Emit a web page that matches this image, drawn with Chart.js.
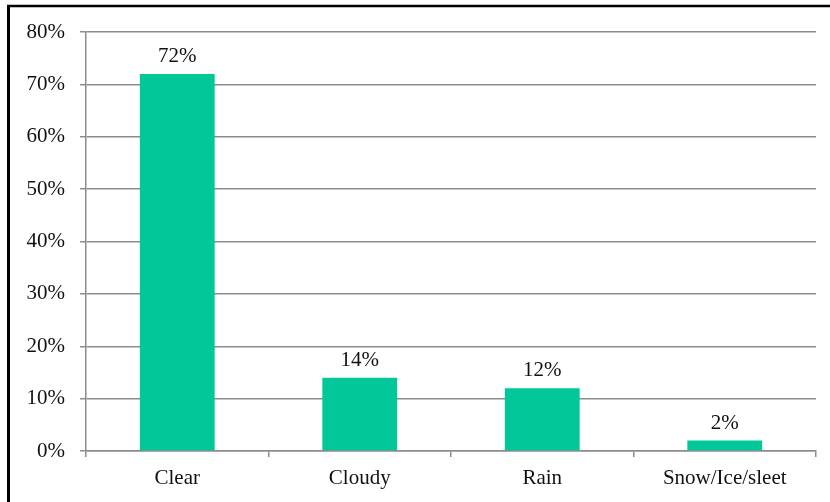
<!DOCTYPE html>
<html>
<head>
<meta charset="utf-8">
<script src="https://cdn.jsdelivr.net/npm/chart.js@4.4.1/dist/chart.umd.min.js"></script>
<style>
  html, body { margin: 0; padding: 0; background: #fff; }
  #wrap { width: 830px; height: 502px; }
</style>
</head>
<body>
<div id="wrap"><canvas id="barChart" width="830" height="502"></canvas></div>
<script>
var categories = ['Clear', 'Cloudy', 'Rain', 'Snow/Ice/sleet'];
var shares = [72, 14, 12, 2];
var yTicks = [0, 10, 20, 30, 40, 50, 60, 70, 80];

var barColor = '#02c899';
var gridColor = '#8c8c8c';
var serif = '"Liberation Serif", "Times New Roman", serif';
var fontSize = 21;

// value labels above each bar
var valueLabels = {
    id: 'valueLabels',
    afterDatasetsDraw: function (chart) {
        var ctx = chart.ctx;
        var meta = chart.getDatasetMeta(0);
        ctx.save();
        ctx.font = fontSize + 'px ' + serif;
        ctx.fillStyle = '#111';
        ctx.textAlign = 'center';
        ctx.textBaseline = 'alphabetic';
        meta.data.forEach(function (bar, i) {
            ctx.fillText(shares[i] + '%', bar.x, bar.y - 12);
        });
        ctx.restore();
    }
};

// the dark frame along the top and left edges
var frame = {
    id: 'frame',
    afterDraw: function (chart) {
        var ctx = chart.ctx;
        ctx.save();
        ctx.strokeStyle = '#000';
        ctx.lineWidth = 2.5;
        ctx.beginPath();
        ctx.moveTo(7, 6);
        ctx.lineTo(830, 6);
        ctx.stroke();
        ctx.lineWidth = 3;
        ctx.beginPath();
        ctx.moveTo(8.5, 5);
        ctx.lineTo(8.5, 502);
        ctx.stroke();
        ctx.restore();
    }
};

var ctx = document.getElementById('barChart').getContext('2d');
var myChart = new Chart(ctx, {
    type: 'bar',
    data: {
        labels: categories,
        datasets: [{
            data: shares,
            backgroundColor: barColor,
            borderWidth: 0,
            categoryPercentage: 0.41,
            barPercentage: 1
        }]
    },
    options: {
        responsive: false,
        animation: false,
        layout: { padding: { top: 32, right: 14, left: 0, bottom: 0 } },
        plugins: {
            legend: { display: false },
            tooltip: { enabled: false }
        },
        scales: {
            x: {
                afterFit: function (scale) { scale.height = 51; },
                grid: {
                    offset: true,
                    drawOnChartArea: false,
                    color: gridColor,
                    tickLength: 6,
                    lineWidth: 1.5
                },
                border: { color: gridColor, width: 1.5 },
                ticks: {
                    color: '#111',
                    padding: 9,
                    font: { family: serif, size: fontSize }
                }
            },
            y: {
                min: 0,
                max: 80,
                afterFit: function (scale) { scale.width = 86; },
                afterBuildTicks: function (scale) {
                    scale.ticks = yTicks.map(function (v) { return { value: v }; });
                },
                grid: {
                    color: gridColor,
                    tickLength: 6,
                    lineWidth: 1.5
                },
                border: { color: gridColor, width: 1.5 },
                ticks: {
                    color: '#111',
                    padding: 15,
                    font: { family: serif, size: fontSize },
                    callback: function (v) { return v + '%'; }
                }
            }
        }
    },
    plugins: [valueLabels, frame]
});
</script>
</body>
</html>
